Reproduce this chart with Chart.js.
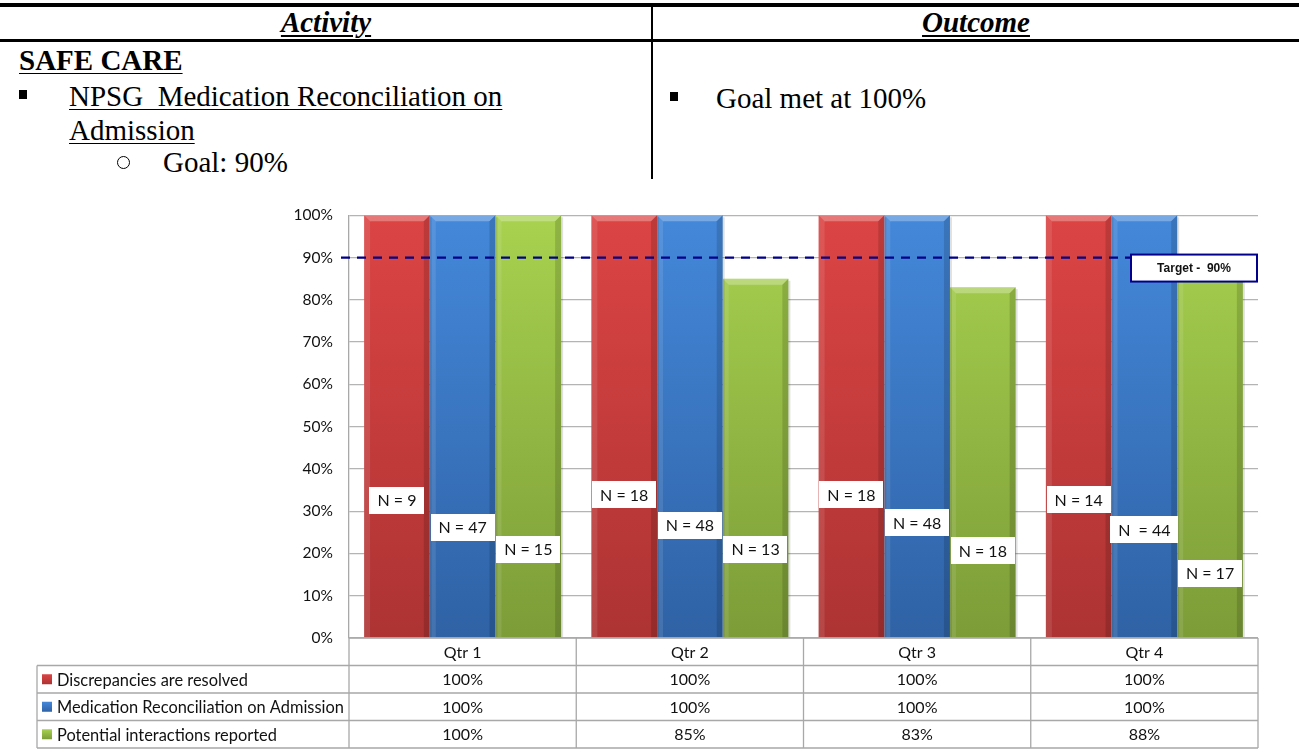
<!DOCTYPE html>
<html>
<head>
<meta charset="utf-8">
<script src="https://cdn.jsdelivr.net/npm/chart.js@4/dist/chart.umd.min.js"></script>
<style>
  html, body { margin: 0; padding: 0; background: #fff; }
  body { width: 1299px; height: 752px; position: relative; overflow: hidden; font-family: "Liberation Serif", "Times New Roman", serif; color: #000; }
  .abs { position: absolute; white-space: pre; }
  .rule { position: absolute; background: #000; }
  .head { font-size: 29px; font-weight: bold; font-style: italic; text-decoration: underline; text-underline-offset: 3px; text-align: center; line-height: 30px; }
  .body { font-size: 29px; line-height: 34px; }
  .ul { text-decoration: underline; text-decoration-thickness: 1px; text-underline-offset: 3px; }
  .sq { position: absolute; width: 8px; height: 9px; background: #000; }
  .circ { position: absolute; width: 11px; height: 11px; border: 1.3px solid #000; border-radius: 50%; }
  #chartBox { position: absolute; left: 0; top: 190px; width: 1299px; height: 562px; }
</style>
</head>
<body>
  <div class="rule" style="left:0;top:3px;width:1299px;height:4px"></div>
  <div class="rule" style="left:0;top:39px;width:1299px;height:3px"></div>
  <div class="rule" style="left:651px;top:3px;width:2px;height:176px"></div>

  <div class="abs head" style="left:0;top:7px;width:652px">Activity</div>
  <div class="abs head" style="left:653px;top:7px;width:646px">Outcome</div>

  <div class="abs body ul" style="left:19px;top:43px;font-weight:bold">SAFE CARE</div>
  <div class="sq" style="left:19px;top:90px"></div>
  <div class="abs body ul" style="left:69px;top:79px">NPSG  Medication Reconciliation on</div>
  <div class="abs body ul" style="left:69px;top:113px">Admission</div>
  <div class="circ" style="left:117px;top:156px"></div>
  <div class="abs body" style="left:163px;top:145px">Goal: 90%</div>

  <div class="sq" style="left:670px;top:92px"></div>
  <div class="abs body" style="left:716px;top:81px">Goal met at 100%</div>

  <div id="chartBox"><canvas id="chart" width="1299" height="562"></canvas></div>

<script>
// Quarters and series
const quarters = ['Qtr 1', 'Qtr 2', 'Qtr 3', 'Qtr 4'];
const seriesNames = ['Discrepancies are resolved', 'Medication Reconciliation on Admission', 'Potential interactions reported'];
const discrepanciesResolved = [100, 100, 100, 100];
const medRecOnAdmission = [100, 100, 100, 100];
const interactionsReported = [100, 85, 83, 88];

// Sample sizes shown on each bar
const discrepanciesN = ['N = 9', 'N = 18', 'N = 18', 'N = 14'];
const medRecN = ['N = 47', 'N = 48', 'N = 48', 'N  = 44'];
const interactionsN = ['N = 15', 'N = 13', 'N = 18', 'N = 17'];

// Goal
const targetValue = 90;
const targetLabel = 'Target -  90%';

// Y axis
const yTicks = [0, 10, 20, 30, 40, 50, 60, 70, 80, 90, 100];

// Colours: [top, bottom]
const palette = [
  ['#dc4444', '#ad3333'],
  ['#4488da', '#2f62a5'],
  ['#a8d24f', '#7c9c38']
];

// Heights (in axis units) where the N boxes sit over each bar
const nBoxLevels = [
  [32.6, 33.9, 33.9, 32.8],
  [26.2, 26.7, 27.3, 25.7],
  [21.0, 21.0, 20.7, 15.3]
];

const valueSets = [discrepanciesResolved, medRecOnAdmission, interactionsReported];
const nSets = [discrepanciesN, medRecN, interactionsN];
const uiFont = 'Lato';

function barGradient(i) {
  return (ctx) => {
    const chart = ctx.chart;
    const area = chart.chartArea;
    if (!area) return palette[i][0];
    const g = chart.ctx.createLinearGradient(0, area.top, 0, area.bottom);
    g.addColorStop(0, palette[i][0]);
    g.addColorStop(1, palette[i][1]);
    return g;
  };
}

// Bevelled look for each bar
const bevelPlugin = {
  id: 'bevel',
  afterDatasetsDraw(chart) {
    const c = chart.ctx;
    chart.data.datasets.forEach((ds, di) => {
      chart.getDatasetMeta(di).data.forEach((bar) => {
        const l = bar.x - bar.width / 2, r = bar.x + bar.width / 2;
        const t = bar.y, b = bar.base, bv = 6;
        c.save();
        c.fillStyle = 'rgba(255,255,255,0.28)';
        c.beginPath();
        c.moveTo(l, t); c.lineTo(r, t); c.lineTo(r - bv, t + bv); c.lineTo(l + bv, t + bv); c.closePath();
        c.fill();
        c.fillStyle = 'rgba(255,255,255,0.10)';
        c.beginPath();
        c.moveTo(l, t); c.lineTo(l + bv, t + bv); c.lineTo(l + bv, b); c.lineTo(l, b); c.closePath();
        c.fill();
        c.fillStyle = 'rgba(0,0,0,0.14)';
        c.beginPath();
        c.moveTo(r, t); c.lineTo(r - bv, t + bv); c.lineTo(r - bv, b); c.lineTo(r, b); c.closePath();
        c.fill();
        c.fillStyle = 'rgba(0,0,0,0.12)';
        c.fillRect(r, t + 2, 2, b - t - 2);
        c.restore();
      });
    });
  }
};

// Target line with its tag, and N boxes
const overlayPlugin = {
  id: 'overlay',
  afterDatasetsDraw(chart) {
    const c = chart.ctx;
    const area = chart.chartArea;
    const y = chart.scales.y;

    c.save();
    c.font = '16px ' + uiFont;
    c.textAlign = 'center';
    c.textBaseline = 'middle';
    nSets.forEach((labels, di) => {
      chart.getDatasetMeta(di).data.forEach((bar, j) => {
        const cy = y.getPixelForValue(nBoxLevels[di][j]);
        const w = c.measureText(labels[j]).width + 16;
        const h = 27;
        c.fillStyle = '#fff';
        c.fillRect(Math.round(bar.x - w / 2), Math.round(cy - h / 2), Math.round(w), h);
        c.fillStyle = '#111';
        c.fillText(labels[j], bar.x, cy + 1);
      });
    });
    c.restore();

    const ty = y.getPixelForValue(targetValue);
    const boxW = 126, boxH = 27;
    const boxR = area.right - 1;
    const boxL = boxR - boxW;
    c.save();
    c.strokeStyle = '#00008b';
    c.lineWidth = 2.2;
    c.setLineDash([9, 7]);
    c.beginPath();
    c.moveTo(area.left - 8, ty);
    c.lineTo(boxL, ty);
    c.stroke();
    c.setLineDash([]);
    c.fillStyle = '#fff';
    c.fillRect(boxL, ty - 3, boxW, boxH);
    c.lineWidth = 2;
    c.strokeRect(boxL, ty - 3, boxW, boxH);
    c.fillStyle = '#111';
    c.font = 'bold 12px "Liberation Sans"';
    c.textAlign = 'center';
    c.textBaseline = 'middle';
    c.fillText(targetLabel, boxL + boxW / 2, ty - 3 + boxH / 2 + 1);
    c.restore();
  }
};

// Data table under the plot
const tablePlugin = {
  id: 'dataTable',
  afterDraw(chart) {
    const c = chart.ctx;
    const area = chart.chartArea;
    const x = chart.scales.x;
    const colW = (area.right - area.left) / quarters.length;
    const rowH = 27.5;
    const top = area.bottom;
    const legendLeft = 37;
    const bottom = top + rowH * 4;

    c.save();
    c.strokeStyle = '#a8a8a8';
    c.lineWidth = 1.3;
    c.beginPath();
    c.moveTo(area.left, top); c.lineTo(area.right, top);
    for (let r = 1; r <= 4; r++) {
      c.moveTo(legendLeft, top + r * rowH); c.lineTo(area.right, top + r * rowH);
    }
    for (let k = 0; k <= quarters.length; k++) {
      const vx = area.left + k * colW;
      c.moveTo(vx, top); c.lineTo(vx, bottom);
    }
    c.moveTo(legendLeft, top + rowH); c.lineTo(legendLeft, bottom);
    c.stroke();

    c.font = '16px ' + uiFont;
    c.fillStyle = '#111';
    c.textBaseline = 'middle';
    c.textAlign = 'center';
    quarters.forEach((q, k) => {
      const cx = x.getPixelForValue(k);
      c.fillText(q, cx, top + rowH / 2 + 1);
      valueSets.forEach((vals, di) => {
        c.fillText(vals[k] + '%', cx, top + (di + 1.5) * rowH + 1);
      });
    });

    c.textAlign = 'left';
    c.font = '16.4px ' + uiFont;
    seriesNames.forEach((name, di) => {
      const cy = top + (di + 1.5) * rowH;
      const g = c.createLinearGradient(0, cy - 5, 0, cy + 5);
      g.addColorStop(0, palette[di][0]);
      g.addColorStop(1, palette[di][1]);
      c.fillStyle = g;
      c.fillRect(42, cy - 5, 10, 10);
      c.fillStyle = '#111';
      c.fillText(name, 57, cy + 1);
    });
    c.restore();
  }
};

new Chart(document.getElementById('chart'), {
  type: 'bar',
  data: {
    labels: quarters,
    datasets: valueSets.map((vals, i) => ({
      label: seriesNames[i],
      data: vals,
      backgroundColor: barGradient(i),
      borderWidth: 0,
      categoryPercentage: 0.867,
      barPercentage: 1.0
    }))
  },
  options: {
    responsive: false,
    devicePixelRatio: 1,
    animation: false,
    layout: { padding: { left: 0, top: 23, right: 41, bottom: 114 } },
    plugins: { legend: { display: false }, tooltip: { enabled: false } },
    scales: {
      x: { display: false },
      y: {
        min: 0,
        max: 100,
        afterFit(scale) { scale.width = 349; },
        afterBuildTicks(scale) { scale.ticks = yTicks.map(v => ({ value: v })); },
        ticks: {
          padding: 16,
          color: '#111',
          font: { family: uiFont, size: 15.5 },
          callback: (v) => v + '%'
        },
        grid: { color: '#b4b4b4', lineWidth: 1.3, drawTicks: false },
        border: { display: true, color: '#a8a8a8', width: 1.3 }
      }
    }
  },
  plugins: [bevelPlugin, overlayPlugin, tablePlugin]
});
</script>
</body>
</html>
